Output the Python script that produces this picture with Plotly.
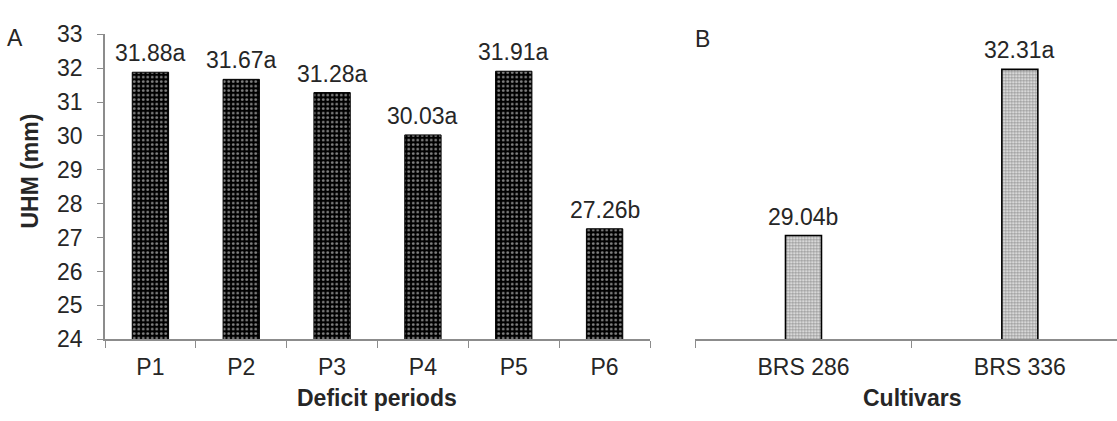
import plotly.graph_objects as go

periods = ["P1", "P2", "P3", "P4", "P5", "P6"]
period_values = [31.88, 31.67, 31.28, 30.03, 31.91, 27.26]
period_letters = ["a", "a", "a", "a", "a", "b"]

cultivars = ["BRS 286", "BRS 336"]
cultivar_values = [29.04, 32.31]
cultivar_letters = ["b", "a"]

y_ticks_a = [24, 25, 26, 27, 28, 29, 30, 31, 32, 33]

W, H = 1117, 421
FONT = "Liberation Sans"
TXT = "#262626"
FS = 23

def px(x):
    return x / W

def py(y):
    return (H - y) / H

ydom = [py(347.7), py(22.7)]

fig = go.Figure()

fig.add_trace(go.Bar(
    x=periods, y=period_values, width=0.4,
    marker=dict(color="black", line=dict(color="black", width=1),
                pattern=dict(shape=".", fgcolor="white", bgcolor="black",
                             size=4.5, solidity=0.3)),
    xaxis="x", yaxis="y", showlegend=False, hoverinfo="skip",
))

fig.add_trace(go.Bar(
    x=cultivars, y=cultivar_values, width=36 / 216.4,
    marker=dict(color="white", line=dict(color="black", width=1.6),
                pattern=dict(shape=".", fgcolor="#3a3a3a", bgcolor="#f2f2f2",
                             size=3, solidity=0.55)),
    xaxis="x2", yaxis="y2", showlegend=False, hoverinfo="skip",
))

annotations = []
for c, v, l in zip(periods, period_values, period_letters):
    annotations.append(dict(x=c, y=v, xref="x", yref="y", text=f"{v:.2f}{l}",
                            showarrow=False, yanchor="bottom", yshift=4,
                            font=dict(size=FS, color=TXT, family=FONT)))
for c, v, l in zip(cultivars, cultivar_values, cultivar_letters):
    annotations.append(dict(x=c, y=v, xref="x2", yref="y2", text=f"{v:.2f}{l}",
                            showarrow=False, yanchor="bottom", yshift=4,
                            font=dict(size=FS, color=TXT, family=FONT)))

annotations += [
    dict(x=px(15), y=py(27), xref="paper", yref="paper", text="A", showarrow=False,
         xanchor="center", yanchor="middle", font=dict(size=FS, color=TXT, family=FONT)),
    dict(x=px(702), y=py(28), xref="paper", yref="paper", text="B", showarrow=False,
         xanchor="center", yanchor="middle", font=dict(size=FS, color=TXT, family=FONT)),
    dict(x=px(30), y=py(169), xref="paper", yref="paper", text="<b>UHM (mm)</b>",
         showarrow=False, textangle=-90, xanchor="center", yanchor="middle",
         font=dict(size=FS, color=TXT, family=FONT)),
    dict(x=px(377), y=py(410), xref="paper", yref="paper", text="<b>Deficit periods</b>",
         showarrow=False, xanchor="center", yanchor="middle",
         font=dict(size=FS, color=TXT, family=FONT)),
    dict(x=px(912), y=py(410), xref="paper", yref="paper", text="<b>Cultivars</b>",
         showarrow=False, xanchor="center", yanchor="middle",
         font=dict(size=FS, color=TXT, family=FONT)),
]

axis_line = "#8c8c8c"

fig.update_layout(
    width=W, height=H,
    margin=dict(l=0, r=0, t=0, b=0),
    paper_bgcolor="white", plot_bgcolor="white",
    font=dict(family=FONT, size=FS, color=TXT),
    annotations=annotations,
    xaxis=dict(domain=[px(105), px(650)], range=[-0.5, 5.5], type="category",
               showline=True, linecolor=axis_line, linewidth=1.5,
               ticks="outside", ticklen=7, tickcolor=axis_line, tickson="boundaries",
               ticklabelstandoff=6, showgrid=False, anchor="y",
               tickfont=dict(size=FS, color=TXT, family=FONT)),
    yaxis=dict(domain=ydom, range=[24, 33], tickvals=y_ticks_a,
               showline=True, linecolor=axis_line, linewidth=1.5,
               ticks="outside", ticklen=6, tickcolor=axis_line,
               ticklabelstandoff=10, showgrid=False, zeroline=False, anchor="x",
               tickfont=dict(size=FS, color=TXT, family=FONT)),
    xaxis2=dict(domain=[px(695.3), 1.0], range=[-0.5, 1.449], type="category",
                showline=True, linecolor=axis_line, linewidth=1.5,
                ticks="outside", ticklen=7, tickcolor=axis_line, tickson="boundaries",
                ticklabelstandoff=6, showgrid=False, anchor="y2",
                tickfont=dict(size=FS, color=TXT, family=FONT)),
    yaxis2=dict(domain=ydom, range=[27, 33], visible=False, anchor="x2"),
)

fig.write_html(
    "out.html",
    config={"displayModeBar": False},
    post_script="document.body.style.margin='0';document.body.style.overflow='hidden';",
)
